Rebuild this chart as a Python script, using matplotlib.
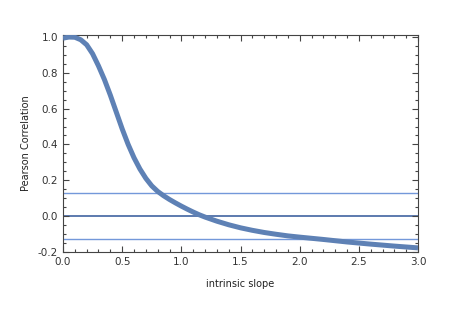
import matplotlib
matplotlib.use("Agg")
import matplotlib.pyplot as plt
from matplotlib.ticker import MultipleLocator, FormatStrFormatter

slope = [0.00, 0.05, 0.10, 0.15, 0.20, 0.25, 0.30, 0.35, 0.40, 0.45, 0.50,
         0.55, 0.60, 0.65, 0.70, 0.75, 0.80, 0.85, 0.90, 0.95, 1.00, 1.05,
         1.10, 1.15, 1.20, 1.30, 1.40, 1.50, 1.60, 1.70, 1.80, 1.90, 2.00,
         2.20, 2.40, 2.60, 2.80, 3.00]
corr = [0.993, 0.999, 0.998, 0.984, 0.956, 0.906, 0.838, 0.762, 0.675, 0.581, 0.487,
        0.401, 0.326, 0.263, 0.211, 0.169, 0.138, 0.114, 0.093, 0.074, 0.056, 0.039,
        0.023, 0.008, -0.005, -0.028, -0.048, -0.065, -0.079, -0.091, -0.101, -0.110, -0.117,
        -0.130, -0.144, -0.156, -0.167, -0.177]
hlines = [0.128, 0.0, -0.128]

fig = plt.figure(figsize=(4.49, 3.19), dpi=100)
ax = fig.add_axes([0.1403, 0.21, 0.931 - 0.1403, 0.89 - 0.21])

blue = "#5E81B5"
for h in hlines:
    ax.axhline(h, color="#7398DA" if h != 0 else "#4F6FA8", lw=1.0 if h != 0 else 1.3, zorder=1)
ax.plot(slope, corr, color=blue, lw=3.6, solid_capstyle="butt", solid_joinstyle="round", zorder=3)

ax.set_xlim(0, 3.0)
ax.set_ylim(-0.2, 1.01)
ax.xaxis.set_major_locator(MultipleLocator(0.5))
ax.xaxis.set_minor_locator(MultipleLocator(0.1))
ax.yaxis.set_major_locator(MultipleLocator(0.2))
ax.yaxis.set_minor_locator(MultipleLocator(0.05))
ax.xaxis.set_major_formatter(FormatStrFormatter("%.1f"))
ax.yaxis.set_major_formatter(FormatStrFormatter("%.1f"))

ax.tick_params(which="both", direction="in", top=True, right=True, color="#444444",
               labelsize=7.5, labelcolor="#333333", width=0.8)
ax.tick_params(which="major", length=4)
ax.tick_params(which="minor", length=2.2)
for s in ax.spines.values():
    s.set_color("#444444")
    s.set_linewidth(0.8)

ax.set_xlabel("intrinsic slope", fontsize=7, color="#222222", labelpad=9)
ax.set_ylabel("Pearson Correlation", fontsize=7, color="#222222", labelpad=5)

fig.savefig("out.png", dpi=100)
